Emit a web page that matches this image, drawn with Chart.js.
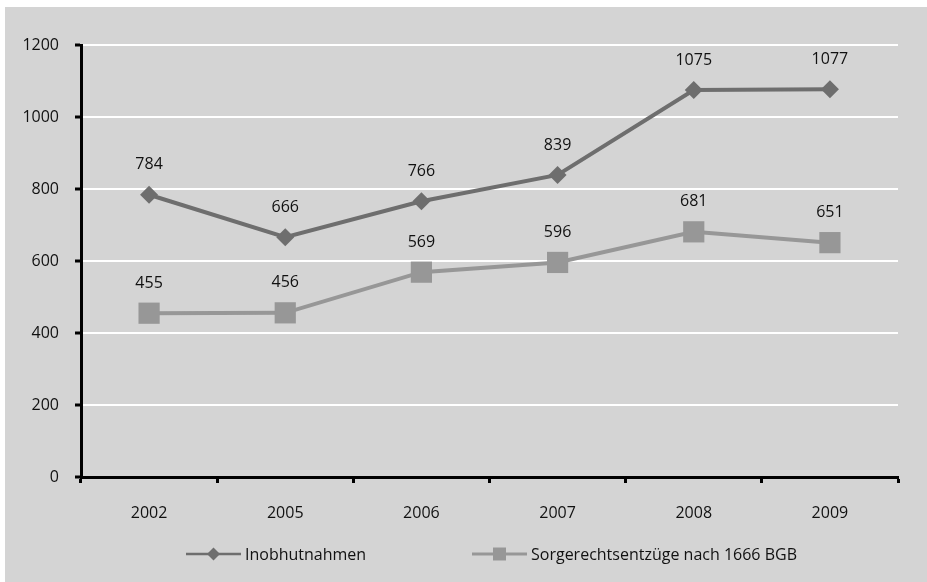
<!DOCTYPE html>
<html>
<head>
<meta charset="utf-8">
<script src="https://cdn.jsdelivr.net/npm/chart.js@4/dist/chart.umd.min.js"></script>
<style>
  html, body { margin: 0; padding: 0; background: #fff; }
  #wrap { position: absolute; left: 5px; top: 7px; width: 922px; height: 575px; background: #d4d4d4; }
</style>
</head>
<body>
<div id="wrap"><canvas id="chart"></canvas></div>
<script>
var years = ['2002', '2005', '2006', '2007', '2008', '2009'];
var inobhutnahmen = [784, 666, 766, 839, 1075, 1077];
var sorgerecht = [455, 456, 569, 596, 681, 651];
var seriesNames = ['Inobhutnahmen', 'Sorgerechtsentzüge nach 1666 BGB'];

var darkGrey = '#6e6e6e';
var lightGrey = '#979797';

Chart.defaults.font.family = "'Open Sans', sans-serif";
Chart.defaults.font.size = 16;
Chart.defaults.color = '#111';

// value above every point
var pointLabels = {
    id: 'pointLabels',
    afterDatasetsDraw: function (chart) {
        var ctx = chart.ctx;
        ctx.save();
        ctx.font = "16px 'Open Sans', sans-serif";
        ctx.fillStyle = '#111';
        ctx.textAlign = 'center';
        ctx.textBaseline = 'middle';
        chart.data.datasets.forEach(function (ds, i) {
            chart.getDatasetMeta(i).data.forEach(function (pt, j) {
                ctx.fillText(String(ds.data[j]), pt.x, pt.y - 30);
            });
        });
        ctx.restore();
    }
};

// legend: short line with the marker in the middle, then the name
var lineLegend = {
    id: 'lineLegend',
    afterDraw: function (chart) {
        var ctx = chart.ctx;
        var y = 547;
        var items = [
            { x: 181, color: darkGrey, style: 'rectRot', radius: 6.5, width: 2.5 },
            { x: 467, color: lightGrey, style: 'rect', radius: 9.2, width: 3 }
        ];
        ctx.save();
        items.forEach(function (it, i) {
            ctx.strokeStyle = it.color;
            ctx.lineWidth = it.width;
            ctx.beginPath();
            ctx.moveTo(it.x, y);
            ctx.lineTo(it.x + 55, y);
            ctx.stroke();
            ctx.fillStyle = it.color;
            Chart.helpers.drawPoint(ctx, { pointStyle: it.style, radius: it.radius, borderWidth: 0 }, it.x + 27.5, y);
            ctx.fillStyle = '#111';
            ctx.font = "16px 'Open Sans', sans-serif";
            ctx.textAlign = 'left';
            ctx.textBaseline = 'middle';
            ctx.fillText(seriesNames[i], it.x + 59, y + 1);
        });
        ctx.restore();
    }
};

var data = {
    labels: years,
    datasets: [
        {
            label: seriesNames[0],
            data: inobhutnahmen,
            borderColor: darkGrey,
            backgroundColor: darkGrey,
            borderWidth: 4,
            pointStyle: 'rectRot',
            pointRadius: 9,
            pointBorderWidth: 0,
            pointHoverRadius: 9
        },
        {
            label: seriesNames[1],
            data: sorgerecht,
            borderColor: lightGrey,
            backgroundColor: lightGrey,
            borderWidth: 4,
            pointStyle: 'rect',
            pointRadius: 15,
            pointBorderWidth: 0,
            pointHoverRadius: 15
        }
    ]
};

var options = {
    responsive: true,
    maintainAspectRatio: false,
    animation: false,
    layout: { padding: { top: 38, right: 29, left: 0, bottom: 0 } },
    plugins: {
        legend: { display: false },
        tooltip: { enabled: false }
    },
    scales: {
        x: {
            offset: true,
            grid: {
                offset: true,
                drawOnChartArea: false,
                tickLength: 6,
                tickColor: '#000',
                tickWidth: 3
            },
            border: { color: '#000', width: 3 },
            ticks: { padding: 21 },
            afterFit: function (scale) { scale.height = 105; }
        },
        y: {
            min: 0,
            max: 1200,
            ticks: {
                stepSize: 200,
                padding: 16,
                callback: function (v) { return String(v); }
            },
            grid: {
                color: function (c) { return c.tick && c.tick.value === 0 ? 'rgba(0,0,0,0)' : '#ffffff'; },
                lineWidth: 2,
                tickLength: 6,
                tickColor: '#000',
                tickWidth: 3
            },
            border: { color: '#000', width: 3 },
            afterFit: function (scale) { scale.width = 76; }
        }
    }
};

new Chart(document.getElementById('chart').getContext('2d'), {
    type: 'line',
    data: data,
    options: options,
    plugins: [pointLabels, lineLegend]
});
</script>
</body>
</html>
